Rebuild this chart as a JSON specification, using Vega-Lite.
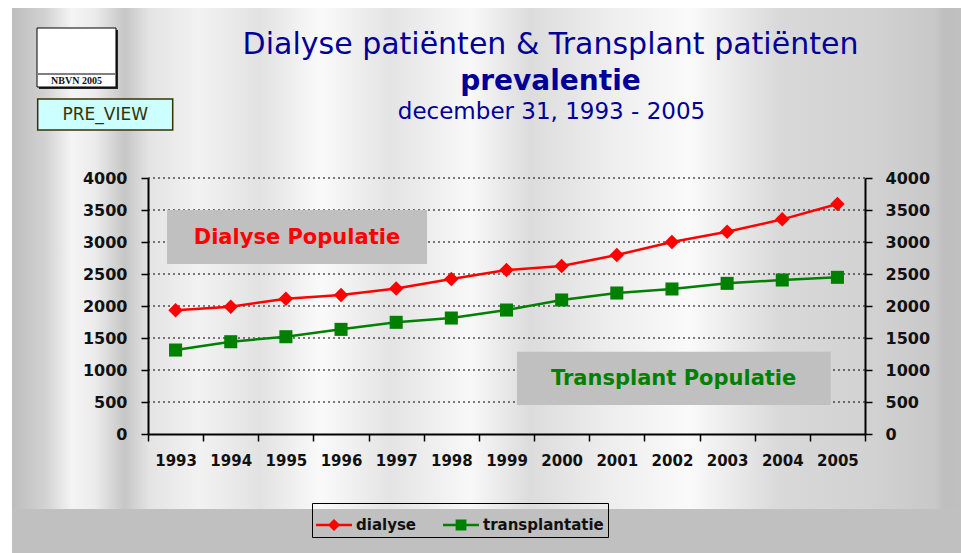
{
  "$schema": "https://vega.github.io/schema/vega-lite/v6.json",
  "background": "white",
  "padding": {"left": 12, "top": 8, "right": 0, "bottom": 0},
  "autosize": {"type": "pad"},
  "width": 717,
  "height": 256,
  "config": {"view": {"stroke": null}, "font": "DejaVu Sans"},
  "title": {
    "text": "Dialyse patiënten & Transplant patiënten",
    "subtitle": "prevalentie",
    "frame": "group",
    "anchor": "middle",
    "dx": 44,
    "offset": -88,
    "font": "DejaVu Sans",
    "fontSize": 30,
    "fontWeight": "normal",
    "color": "#000099",
    "subtitleFont": "DejaVu Sans",
    "subtitleFontSize": 28,
    "subtitleFontWeight": "bold",
    "subtitleColor": "#000099",
    "subtitlePadding": 8
  },
  "data": {"values": [{}]},
  "datasets": {
    "series": [
      {"jaar": "1993", "serie": "dialyse", "patienten": 1935},
      {"jaar": "1994", "serie": "dialyse", "patienten": 1990},
      {"jaar": "1995", "serie": "dialyse", "patienten": 2115},
      {"jaar": "1996", "serie": "dialyse", "patienten": 2172},
      {"jaar": "1997", "serie": "dialyse", "patienten": 2275},
      {"jaar": "1998", "serie": "dialyse", "patienten": 2422},
      {"jaar": "1999", "serie": "dialyse", "patienten": 2562},
      {"jaar": "2000", "serie": "dialyse", "patienten": 2625},
      {"jaar": "2001", "serie": "dialyse", "patienten": 2797},
      {"jaar": "2002", "serie": "dialyse", "patienten": 3000},
      {"jaar": "2003", "serie": "dialyse", "patienten": 3160},
      {"jaar": "2004", "serie": "dialyse", "patienten": 3354},
      {"jaar": "2005", "serie": "dialyse", "patienten": 3594},
      {"jaar": "1993", "serie": "transplantatie", "patienten": 1312},
      {"jaar": "1994", "serie": "transplantatie", "patienten": 1442},
      {"jaar": "1995", "serie": "transplantatie", "patienten": 1520},
      {"jaar": "1996", "serie": "transplantatie", "patienten": 1635},
      {"jaar": "1997", "serie": "transplantatie", "patienten": 1745},
      {"jaar": "1998", "serie": "transplantatie", "patienten": 1812},
      {"jaar": "1999", "serie": "transplantatie", "patienten": 1937},
      {"jaar": "2000", "serie": "transplantatie", "patienten": 2094},
      {"jaar": "2001", "serie": "transplantatie", "patienten": 2203},
      {"jaar": "2002", "serie": "transplantatie", "patienten": 2266},
      {"jaar": "2003", "serie": "transplantatie", "patienten": 2354},
      {"jaar": "2004", "serie": "transplantatie", "patienten": 2406},
      {"jaar": "2005", "serie": "transplantatie", "patienten": 2448}
    ]
  },
  "resolve": {"scale": {"x": "independent", "y": "independent"}, "axis": {"x": "independent", "y": "independent"}},
  "layer": [
    {
      "mark": {"type": "rect", "fill": {"gradient": "linear", "x1": 0, "y1": 0, "x2": 1, "y2": 0, "stops": [
        {"offset": 0, "color": "#bdbdbd"},
        {"offset": 0.035, "color": "#d2d2d2"},
        {"offset": 0.063, "color": "#f4f4f4"},
        {"offset": 0.087, "color": "#ececec"},
        {"offset": 0.119, "color": "#c6c6c6"},
        {"offset": 0.145, "color": "#e4e4e4"},
        {"offset": 0.198, "color": "#f2f2f2"},
        {"offset": 0.261, "color": "#e2e2e2"},
        {"offset": 0.325, "color": "#fafafa"},
        {"offset": 0.398, "color": "#e4e4e4"},
        {"offset": 0.483, "color": "#f8f8f8"},
        {"offset": 0.546, "color": "#dcdcdc"},
        {"offset": 0.62, "color": "#ececec"},
        {"offset": 0.714, "color": "#fafafa"},
        {"offset": 0.809, "color": "#d9d9d9"},
        {"offset": 0.904, "color": "#d2d2d2"},
        {"offset": 0.973, "color": "#c8c8c8"},
        {"offset": 0.983, "color": "#bebebe"},
        {"offset": 1, "color": "#c0c0c0"}
      ]}},
      "encoding": {
        "x": {"datum": 1990.0342, "type": "quantitative", "scale": {"domain": [1992.5, 2005.5], "nice": false, "zero": false},
          "axis": {"orient": "top", "domain": false, "ticks": false, "labels": false, "grid": false,
            "title": "december 31, 1993 - 2005", "titleFont": "DejaVu Sans", "titleFontSize": 23, "titleFontWeight": "normal",
            "titleColor": "#000099", "titleX": 403, "titleY": -60, "titleAlign": "center", "titleBaseline": "alphabetic", "titleAngle": 0, "zindex": 1}},
        "x2": {"datum": 2007.2406},
        "y": {"datum": 6656.25, "type": "quantitative", "scale": {"domain": [0, 4000], "nice": false, "zero": false},
          "axis": {"orient": "right", "title": null, "values": [0, 500, 1000, 1500, 2000, 2500, 3000, 3500, 4000], "format": "d", "grid": false,
            "tickSize": 7, "tickColor": "black", "tickWidth": 1.5, "domainColor": "black", "domainWidth": 2,
            "labelPadding": 13, "labelFont": "DejaVu Sans", "labelFontWeight": "bold", "labelFontSize": 16, "labelColor": "#111111", "zindex": 1}},
        "y2": {"datum": -1171.875}
      }
    },
    {
      "mark": {"type": "rect", "fill": "#c0c0c0"},
      "encoding": {
        "x": {"datum": 1990.0342, "type": "quantitative", "scale": {"domain": [1992.5, 2005.5], "nice": false, "zero": false}, "axis": null},
        "x2": {"datum": 2007.2406},
        "y": {"datum": -1171.875, "type": "quantitative", "scale": {"domain": [0, 4000], "nice": false, "zero": false}, "axis": null},
        "y2": {"datum": -1859.375}
      }
    },
    {"mark": {"type": "rule", "color": "black", "strokeWidth": 1, "strokeDash": [2, 3]},
     "encoding": {"y": {"datum": 500, "type": "quantitative", "scale": {"domain": [0, 4000], "nice": false, "zero": false}, "axis": null}}},
    {"mark": {"type": "rule", "color": "black", "strokeWidth": 1, "strokeDash": [2, 3]},
     "encoding": {"y": {"datum": 1000, "type": "quantitative", "scale": {"domain": [0, 4000], "nice": false, "zero": false}, "axis": null}}},
    {"mark": {"type": "rule", "color": "black", "strokeWidth": 1, "strokeDash": [2, 3]},
     "encoding": {"y": {"datum": 1500, "type": "quantitative", "scale": {"domain": [0, 4000], "nice": false, "zero": false}, "axis": null}}},
    {"mark": {"type": "rule", "color": "black", "strokeWidth": 1, "strokeDash": [2, 3]},
     "encoding": {"y": {"datum": 2000, "type": "quantitative", "scale": {"domain": [0, 4000], "nice": false, "zero": false}, "axis": null}}},
    {"mark": {"type": "rule", "color": "black", "strokeWidth": 1, "strokeDash": [2, 3]},
     "encoding": {"y": {"datum": 2500, "type": "quantitative", "scale": {"domain": [0, 4000], "nice": false, "zero": false}, "axis": null}}},
    {"mark": {"type": "rule", "color": "black", "strokeWidth": 1, "strokeDash": [2, 3]},
     "encoding": {"y": {"datum": 3000, "type": "quantitative", "scale": {"domain": [0, 4000], "nice": false, "zero": false}, "axis": null}}},
    {"mark": {"type": "rule", "color": "black", "strokeWidth": 1, "strokeDash": [2, 3]},
     "encoding": {"y": {"datum": 3500, "type": "quantitative", "scale": {"domain": [0, 4000], "nice": false, "zero": false}, "axis": null}}},
    {"mark": {"type": "rule", "color": "black", "strokeWidth": 1, "strokeDash": [2, 3]},
     "encoding": {"y": {"datum": 4000, "type": "quantitative", "scale": {"domain": [0, 4000], "nice": false, "zero": false}, "axis": null}}},
    {
      "mark": {"type": "rect", "fill": "#c0c0c0"},
      "encoding": {
        "x": {"datum": 1992.845, "type": "quantitative", "scale": {"domain": [1992.5, 2005.5], "nice": false, "zero": false}, "axis": null},
        "x2": {"datum": 1997.559},
        "y": {"datum": 3500, "type": "quantitative", "scale": {"domain": [0, 4000], "nice": false, "zero": false}, "axis": null},
        "y2": {"datum": 2656.25}
      }
    },
    {
      "mark": {"type": "rect", "fill": "#c0c0c0"},
      "encoding": {
        "x": {"datum": 1999.19, "type": "quantitative", "scale": {"domain": [1992.5, 2005.5], "nice": false, "zero": false}, "axis": null},
        "x2": {"datum": 2004.878},
        "y": {"datum": 1285.9, "type": "quantitative", "scale": {"domain": [0, 4000], "nice": false, "zero": false}, "axis": null},
        "y2": {"datum": 453.1}
      }
    },
    {
      "mark": {"type": "text", "text": "Dialyse Populatie", "font": "DejaVu Sans", "fontWeight": "bold", "fontSize": 21, "color": "#ff0000", "align": "center", "baseline": "middle"},
      "encoding": {
        "x": {"datum": 1995.2, "type": "quantitative", "scale": {"domain": [1992.5, 2005.5], "nice": false, "zero": false}, "axis": null},
        "y": {"datum": 3062.5, "type": "quantitative", "scale": {"domain": [0, 4000], "nice": false, "zero": false}, "axis": null}
      }
    },
    {
      "mark": {"type": "text", "text": "Transplant Populatie", "font": "DejaVu Sans", "fontWeight": "bold", "fontSize": 21, "color": "#008000", "align": "center", "baseline": "middle"},
      "encoding": {
        "x": {"datum": 2002.03, "type": "quantitative", "scale": {"domain": [1992.5, 2005.5], "nice": false, "zero": false}, "axis": null},
        "y": {"datum": 859.4, "type": "quantitative", "scale": {"domain": [0, 4000], "nice": false, "zero": false}, "axis": null}
      }
    },
    {
      "mark": {"type": "rect", "fill": "#222222"},
      "encoding": {
        "x": {"datum": 1990.5237, "type": "quantitative", "scale": {"domain": [1992.5, 2005.5], "nice": false, "zero": false}, "axis": null},
        "x2": {"datum": 1991.956},
        "y": {"datum": 6312.5, "type": "quantitative", "scale": {"domain": [0, 4000], "nice": false, "zero": false}, "axis": null},
        "y2": {"datum": 5390.6}
      }
    },
    {
      "mark": {"type": "rect", "fill": "white", "stroke": "black", "strokeWidth": 1},
      "encoding": {
        "x": {"datum": 1990.4875, "type": "quantitative", "scale": {"domain": [1992.5, 2005.5], "nice": false, "zero": false}, "axis": null},
        "x2": {"datum": 1991.9198},
        "y": {"datum": 6343.75, "type": "quantitative", "scale": {"domain": [0, 4000], "nice": false, "zero": false}, "axis": null},
        "y2": {"datum": 5421.875}
      }
    },
    {
      "mark": {"type": "rule", "color": "black", "strokeWidth": 1},
      "encoding": {
        "x": {"datum": 1990.5056, "type": "quantitative", "scale": {"domain": [1992.5, 2005.5], "nice": false, "zero": false}, "axis": null},
        "x2": {"datum": 1991.9017},
        "y": {"datum": 5625, "type": "quantitative", "scale": {"domain": [0, 4000], "nice": false, "zero": false}, "axis": null}
      }
    },
    {
      "mark": {"type": "text", "text": "NBVN 2005", "font": "Liberation Serif", "fontWeight": "bold", "fontSize": 10, "color": "#111111", "align": "center", "baseline": "middle"},
      "encoding": {
        "x": {"datum": 1991.2036, "type": "quantitative", "scale": {"domain": [1992.5, 2005.5], "nice": false, "zero": false}, "axis": null},
        "y": {"datum": 5515.6, "type": "quantitative", "scale": {"domain": [0, 4000], "nice": false, "zero": false}, "axis": null}
      }
    },
    {
      "mark": {"type": "rect", "fill": "#ccffff", "stroke": "#333300", "strokeWidth": 1.5},
      "encoding": {
        "x": {"datum": 1990.5, "type": "quantitative", "scale": {"domain": [1992.5, 2005.5], "nice": false, "zero": false}, "axis": null},
        "x2": {"datum": 1992.9478},
        "y": {"datum": 5234.4, "type": "quantitative", "scale": {"domain": [0, 4000], "nice": false, "zero": false}, "axis": null},
        "y2": {"datum": 4750}
      }
    },
    {
      "mark": {"type": "text", "text": "PRE_VIEW", "font": "DejaVu Sans", "fontSize": 17, "color": "#333300", "align": "center", "baseline": "middle"},
      "encoding": {
        "x": {"datum": 1991.724, "type": "quantitative", "scale": {"domain": [1992.5, 2005.5], "nice": false, "zero": false}, "axis": null},
        "y": {"datum": 4984.4, "type": "quantitative", "scale": {"domain": [0, 4000], "nice": false, "zero": false}, "axis": null}
      }
    },
    {
      "data": {"name": "series"},
      "encoding": {
        "x": {"field": "jaar", "type": "ordinal", "scale": {"type": "band", "paddingInner": 0, "paddingOuter": 0}, "bandPosition": 0.5,
          "axis": {"title": null, "labelAngle": 0, "tickBand": "extent", "tickSize": 7, "tickColor": "black", "tickWidth": 1.5,
            "domainColor": "black", "domainWidth": 2, "labelFont": "DejaVu Sans", "labelFontWeight": "bold", "labelFontSize": 15,
            "labelColor": "#111111", "labelPadding": 12, "grid": false, "zindex": 1}},
        "y": {"field": "patienten", "type": "quantitative", "scale": {"domain": [0, 4000], "nice": false, "zero": false},
          "axis": {"title": null, "values": [0, 500, 1000, 1500, 2000, 2500, 3000, 3500, 4000], "format": "d", "grid": false,
            "tickSize": 7, "tickColor": "black", "tickWidth": 1.5, "domainColor": "black", "domainWidth": 2,
            "labelPadding": 14, "labelFont": "DejaVu Sans", "labelFontWeight": "bold", "labelFontSize": 16, "labelColor": "#111111", "zindex": 1}},
        "color": {"field": "serie", "type": "nominal", "scale": {"domain": ["dialyse", "transplantatie"], "range": ["#ff0000", "#008000"]},
          "legend": {"title": null, "orient": "none", "legendX": 164, "legendY": 325, "direction": "horizontal", "columns": 2,
            "symbolSize": 1296, "symbolOpacity": 1, "symbolStrokeWidth": 0, "labelFont": "DejaVu Sans", "labelFontWeight": "bold", "labelFontSize": 15,
            "labelColor": "#111111", "labelOffset": 4, "columnPadding": 26, "padding": 4, "strokeColor": "black"}}
      },
      "layer": [
        {"mark": {"type": "line", "strokeWidth": 2.5}},
        {
          "mark": {"type": "point", "filled": true, "opacity": 1},
          "encoding": {
            "shape": {"condition": {"test": "datum.serie === 'dialyse'", "value": "diamond"}, "value": "square"},
            "size": {"condition": {"test": "datum.serie === 'dialyse'", "value": 210}, "value": 170}
          }
        },
        {
          "mark": {"type": "point", "filled": true, "opacity": 0},
          "encoding": {
            "shape": {"field": "serie", "type": "nominal",
              "scale": {"domain": ["dialyse", "transplantatie"], "range": [
                "M-1,-0.07H1V0.07H-1Z M0,-0.34L0.34,0L0,0.34L-0.34,0Z",
                "M-1,-0.07H1V0.07H-1Z M-0.3,-0.3H0.3V0.3H-0.3Z"]},
              "legend": {"title": null, "orient": "none", "legendX": 164, "legendY": 325, "direction": "horizontal", "columns": 2,
                "symbolSize": 1296, "symbolOpacity": 1, "symbolStrokeWidth": 0, "labelFont": "DejaVu Sans", "labelFontWeight": "bold", "labelFontSize": 15,
                "labelColor": "#111111", "labelOffset": 4, "columnPadding": 26, "padding": 4, "strokeColor": "black"}}
          }
        }
      ]
    }
  ]
}
